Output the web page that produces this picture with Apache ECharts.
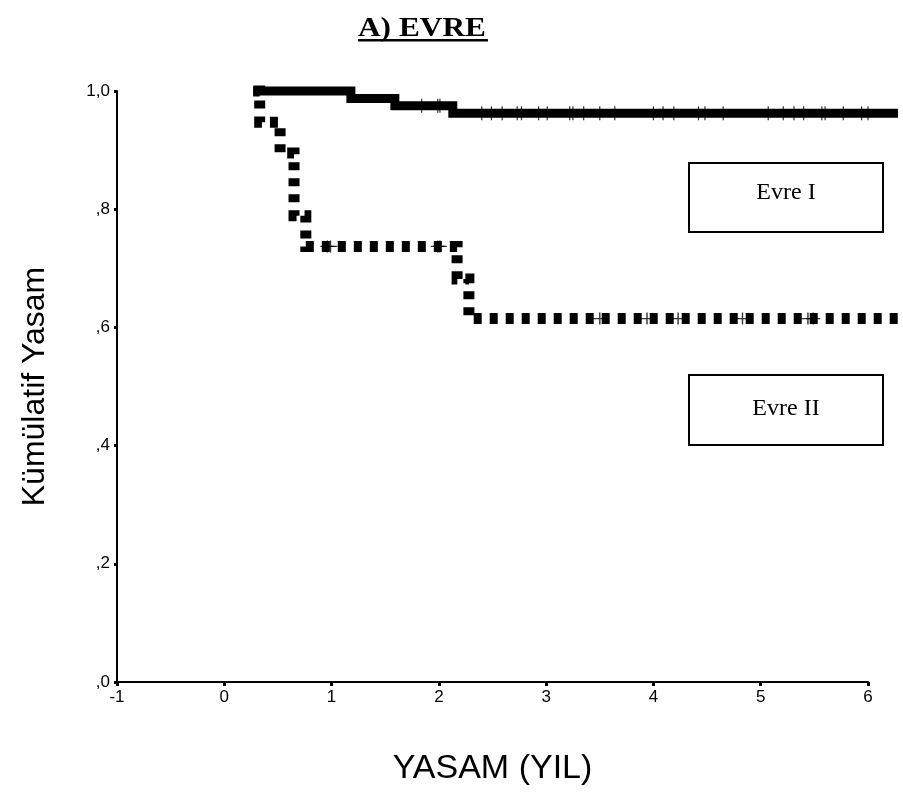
<!DOCTYPE html>
<html>
<head>
<meta charset="utf-8">
<script src="https://cdn.jsdelivr.net/npm/echarts@6/dist/echarts.min.js"></script>
<style>
html,body{margin:0;padding:0;background:#fff;}
#chart{width:903px;height:809px;}
</style>
</head>
<body>
<div id="chart"></div>
<script>
// Kaplan-Meier step curves (time in years, cumulative survival)
const evre1Times = [0.27, 1.18, 1.59, 2.13, 6.28];
const evre1Surv  = [1.0, 0.9875, 0.975, 0.9625, 0.9625];
const evre2Times = [0.27, 0.33, 0.52, 0.65, 0.76, 2.17, 2.28, 6.28];
const evre2Surv  = [1.0, 0.947, 0.895, 0.789, 0.737, 0.682, 0.615, 0.615];
// censored observations (times)
const evre1Censor = [1.84, 1.99, 2.01, 2.40, 2.49, 2.59, 2.73, 2.77, 2.93, 3.01, 3.22, 3.25, 3.35, 3.50, 3.64, 4.00, 4.09, 4.19, 4.42, 4.48, 4.65, 5.07, 5.21, 5.31, 5.40, 5.57, 5.60, 5.77, 5.94, 6.00];
const evre2Censor = [0.96, 0.99, 1.99, 2.01, 3.50, 3.94, 4.23, 4.83, 5.44, 5.49];
const xTicks = [-1, 0, 1, 2, 3, 4, 5, 6];
const xDataMax = 6.28;
const yTickLabels = {'0':',0','0.2':',2','0.4':',4','0.6':',6','0.8':',8','1':'1,0'};
const titleText = 'A) EVRE';
const xName = 'YASAM (YIL)';
const yName = 'Kümülatif Yasam';
const groupNames = ['Evre I', 'Evre II'];

function survAt(times, surv, t){
  let v = surv[0];
  for (let i=0;i<times.length;i++){ if (times[i] <= t) v = surv[i]; }
  return v;
}
const pairs = (a,b)=>a.map((t,i)=>[t,b[i]]);
const censorPts = (c,times,surv)=>c.map(t=>[t, survAt(times,surv,t)]);

const plus = 'path://M0,5.4h12v1.2h-12z M5.4,0h1.2v12h-1.2z';
const chart = echarts.init(document.getElementById('chart'), null, {renderer:'canvas'});
const sans = 'Liberation Sans, Arial, sans-serif';
const serif = 'Liberation Serif, Times New Roman, serif';
const xMin = xTicks[0], xMax = xTicks[xTicks.length-1];
// plot width in px for axis range [-1,6]
const plotW = 903 - 117 - 35;
const extraRight = 35 - plotW * (xDataMax - xMax) / (xMax - xMin);
chart.setOption({
  animation:false,
  backgroundColor:'#fff',
  grid:[
    {left:117, right:35, top:91, bottom:127, containLabel:false},
    {left:117, right:extraRight, top:91, bottom:127, containLabel:false}
  ],
  xAxis:[{
    gridIndex:0, type:'value', min:xMin, max:xMax, interval:1,
    name:xName, nameLocation:'middle', nameGap:70,
    nameTextStyle:{fontFamily:sans, fontSize:34, color:'#000'},
    axisLine:{show:true, onZero:false, lineStyle:{color:'#000', width:2}},
    axisTick:{show:true, length:4, lineStyle:{color:'#000', width:3}},
    axisLabel:{fontFamily:sans, fontSize:17, color:'#000', margin:7},
    splitLine:{show:false}
  },{
    gridIndex:1, type:'value', min:xMin, max:xDataMax, show:false, splitLine:{show:false}
  }],
  yAxis:[{
    gridIndex:0, type:'value', min:0, max:1, interval:0.2,
    name:yName, nameLocation:'middle', nameGap:66, nameRotate:90,
    nameTextStyle:{fontFamily:sans, fontSize:32, color:'#000'},
    axisLine:{show:true, onZero:false, lineStyle:{color:'#000', width:2}},
    axisTick:{show:true, length:3, lineStyle:{color:'#000', width:3}},
    axisLabel:{fontFamily:sans, fontSize:17, color:'#000', margin:7,
      formatter:v=>yTickLabels[String(+v.toFixed(1))]},
    splitLine:{show:false}
  },{
    gridIndex:1, type:'value', min:0, max:1, show:false, splitLine:{show:false}
  }],
  series:[
    {type:'line', name:groupNames[0], xAxisIndex:1, yAxisIndex:1, step:'end', clip:false, showSymbol:false, symbol:'none',
     data:pairs(evre1Times, evre1Surv),
     lineStyle:{color:'#000', width:9, cap:'butt', join:'miter'}, z:3},
    {type:'line', name:groupNames[1], xAxisIndex:1, yAxisIndex:1, step:'end', clip:false, showSymbol:false, symbol:'none',
     data:pairs(evre2Times, evre2Surv),
     lineStyle:{color:'#000', width:11, type:[8,8], cap:'butt', join:'miter'}, z:3},
    {type:'scatter', xAxisIndex:1, yAxisIndex:1, clip:false, symbol:plus, symbolSize:[12,14],
     data:censorPts(evre1Censor, evre1Times, evre1Surv), itemStyle:{color:'#000'}, z:4},
    {type:'scatter', xAxisIndex:1, yAxisIndex:1, clip:false, symbol:plus, symbolSize:[14,12],
     data:censorPts(evre2Censor, evre2Times, evre2Surv), itemStyle:{color:'#000'}, z:4}
  ],
  graphic:[
    {type:'text', x:358, y:16, scaleX:1.16, style:{text:titleText, font:'bold 27px '+serif, fill:'#000'}},
    {type:'rect', shape:{x:358, y:39, width:130, height:2.5}, style:{fill:'#000'}},
    {type:'rect', shape:{x:689, y:163, width:194, height:69}, style:{fill:'#fff', stroke:'#000', lineWidth:2}},
    {type:'text', x:786, y:193, style:{text:groupNames[0], font:'24px '+serif, fill:'#000', align:'center', verticalAlign:'middle'}},
    {type:'rect', shape:{x:689, y:375, width:194, height:70}, style:{fill:'#fff', stroke:'#000', lineWidth:2}},
    {type:'text', x:786, y:409, style:{text:groupNames[1], font:'24px '+serif, fill:'#000', align:'center', verticalAlign:'middle'}}
  ]
});
</script>
</body>
</html>
